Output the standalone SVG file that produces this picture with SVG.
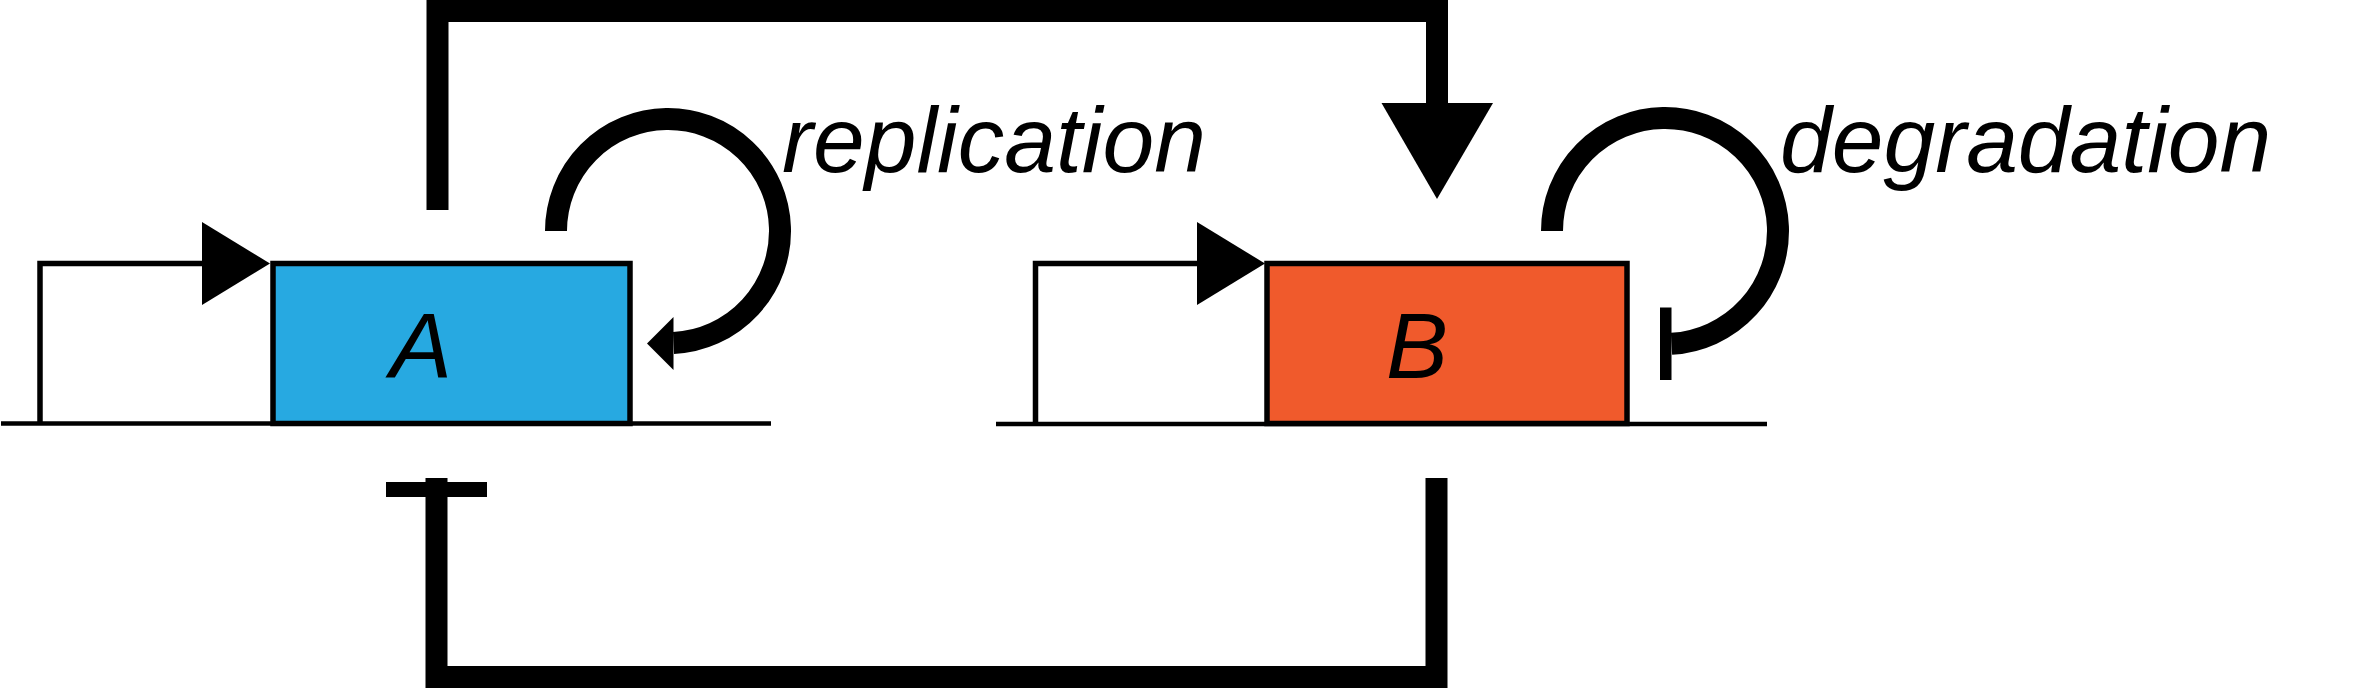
<svg xmlns="http://www.w3.org/2000/svg" width="2357" height="689" viewBox="0 0 2357 689">
<style>
.lbl{font-family:"Liberation Sans",Arial,sans-serif;font-style:italic;font-size:93px;fill:#000}
.thick{fill:none;stroke:#000;stroke-width:22;stroke-linejoin:miter;stroke-linecap:butt}
.thin{fill:none;stroke:#000;stroke-width:5.5}
.base{fill:none;stroke:#000;stroke-width:4.5}
.box{stroke:#000;stroke-width:5.5}
</style>
<rect width="2357" height="689" fill="#fff"/>
<g id="geneA">
<line class="base" x1="1" y1="423.5" x2="771" y2="423.5"/>
<polyline class="thin" points="40,424 40,263.5 204,263.5"/>
<polygon points="202,222 270,263.5 202,305" fill="#000"/>
<rect class="box" x="273" y="263.5" width="357" height="160" fill="#27a9e1"/>
<text class="lbl" x="390" y="378">A</text>
</g>
<g id="geneB">
<line class="base" x1="996" y1="424" x2="1767" y2="424"/>
<polyline class="thin" points="1035.5,424 1035.5,263.5 1199,263.5"/>
<polygon points="1197,222 1265,263.5 1197,305" fill="#000"/>
<rect class="box" x="1267" y="263.5" width="360" height="160" fill="#f05a2c"/>
<text class="lbl" x="1386" y="378">B</text>
</g>
<g id="connectors">
<path class="thick" d="M437.5,210 V11 H1437 V104"/>
<polygon points="1381.5,103 1493,103 1437,199" fill="#000"/>
<path class="thick" d="M436.5,478 V677 H1436.5 V478"/>
<rect x="386" y="482" width="101" height="15" fill="#000"/>
<path class="thick" d="M556,231 A112,112 0 1 1 673.5,342.9"/>
<polygon points="673.5,317 647,343.6 673.5,370" fill="#000"/>
<path class="thick" d="M1552,231 A113,113 0 1 1 1671.5,343.8"/>
<rect x="1660" y="307.5" width="11.5" height="72.5" fill="#000"/>
</g>
<g id="labels">
<text class="lbl" x="782" y="172">replication</text>
<text class="lbl" x="1780" y="172">degradation</text>
</g>
</svg>
